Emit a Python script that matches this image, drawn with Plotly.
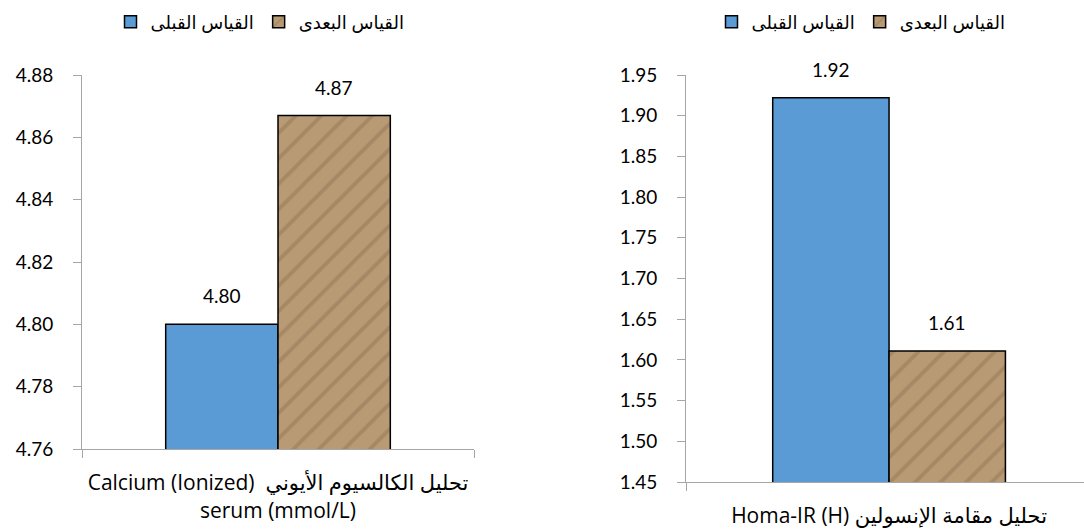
import plotly.graph_objects as go

# ---- data ----
series_names = ["القياس القبلى", "القياس البعدى"]
left_category = ["Calcium (Ionized)  تحليل الكالسيوم الأيوني<br>serum (mmol/L)"]
right_category = ["Homa-IR (H) تحليل مقامة الإنسولين"]
left_before = [4.80]
left_after = [4.867]
right_before = [1.922]
right_after = [1.611]
left_ticks = [4.76, 4.78, 4.80, 4.82, 4.84, 4.86, 4.88]
right_ticks = [1.45, 1.50, 1.55, 1.60, 1.65, 1.70, 1.75, 1.80, 1.85, 1.90, 1.95]

W, H = 1084, 531
BLUE = "#5B9BD5"
TAN = "#B89A74"
AXIS = "#A6A6A6"
FONT = "Lato, 'DejaVu Sans', sans-serif"
CATFONT = "'Open Sans', 'DejaVu Sans', sans-serif"
BARGAP = 0.427

fig = go.Figure()

def add_pair(cat, before, after, xa, ya, legend):
    fig.add_trace(go.Bar(
        x=cat, y=before, name=series_names[0], xaxis=xa, yaxis=ya, legend=legend,
        marker=dict(color=BLUE, line=dict(color="black", width=1.5)),
        hoverinfo="y"))
    fig.add_trace(go.Bar(
        x=cat, y=after, name=series_names[1], xaxis=xa, yaxis=ya, legend=legend,
        marker=dict(color=TAN, line=dict(color="black", width=1.5),
                    pattern=dict(shape="/", bgcolor=TAN, fgcolor="#7a5f40",
                                 fgopacity=0.3, size=18, solidity=0.22)),
        hoverinfo="y"))
    half = (1 - BARGAP) / 4
    for i, c in enumerate(cat):
        for off, v in ((-half, before[i]), (half, after[i])):
            fig.add_annotation(x=i + off, y=v, xref=xa, yref=ya, text=f"{v:.2f}",
                               showarrow=False, yanchor="bottom", yshift=15,
                               font=dict(family=FONT, size=19, color="black"))

add_pair(left_category, left_before, left_after, "x", "y", "legend")
add_pair(right_category, right_before, right_after, "x2", "y2", "legend2")

xcommon = dict(type="category", showline=True, linecolor=AXIS, linewidth=1,
               ticks="outside", tickson="boundaries", ticklen=8, tickcolor=AXIS,
               showgrid=False, zeroline=False, automargin=False,
               tickfont=dict(family=CATFONT, size=21, color="black"),
               ticklabelstandoff=15, fixedrange=True)
ycommon = dict(showline=True, linecolor=AXIS, linewidth=1, ticks="outside",
               ticklen=8, tickcolor=AXIS, showgrid=False, zeroline=False,
               automargin=False, tickformat=".2f",
               tickfont=dict(family=FONT, size=19, color="black"),
               ticklabelstandoff=16, fixedrange=True)

legcommon = dict(orientation="h", xanchor="center", y=(H - 22) / H,
                 yanchor="middle", font=dict(family=CATFONT, size=18),
                 bgcolor="rgba(0,0,0,0)", traceorder="normal", itemwidth=30)

fig.update_layout(
    width=W, height=H,
    margin=dict(l=0, r=0, t=0, b=0),
    paper_bgcolor="white", plot_bgcolor="white",
    barmode="group", bargap=BARGAP, bargroupgap=0,
    font=dict(family=FONT, color="black"),
    xaxis=dict(xcommon, domain=[82 / W, 474 / W], anchor="y", range=[-0.5, 0.5]),
    yaxis=dict(ycommon, domain=[(H - 449) / H, (H - 75) / H], anchor="x",
               range=[left_ticks[0], left_ticks[-1]], tickvals=left_ticks),
    xaxis2=dict(xcommon, domain=[686 / W, 1.0], anchor="y2", range=[-0.5, 0.48]),
    yaxis2=dict(ycommon, domain=[(H - 482) / H, (H - 75) / H], anchor="x2",
                range=[right_ticks[0], right_ticks[-1]], tickvals=right_ticks),
    legend=dict(legcommon, x=260 / W),
    legend2=dict(legcommon, x=861 / W),
    showlegend=True,
)

fig.write_html("out.html")
